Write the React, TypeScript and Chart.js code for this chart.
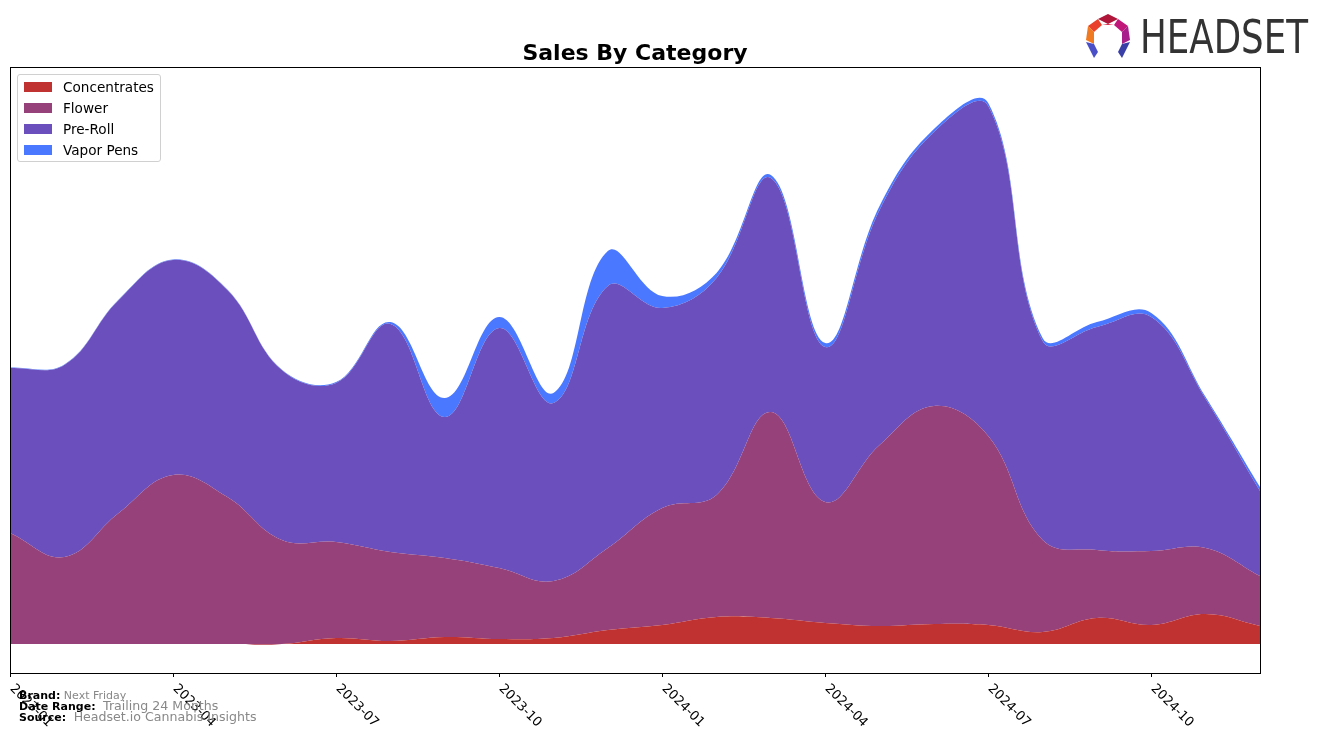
import React, { useEffect, useRef } from "react";
import { Chart, registerables } from "chart.js";

Chart.register(...registerables);

const MONTHS = [
  "2023-01", "2023-02", "2023-03", "2023-04", "2023-05", "2023-06",
  "2023-07", "2023-08", "2023-09", "2023-10", "2023-11", "2023-12",
  "2024-01", "2024-02", "2024-03", "2024-04", "2024-05", "2024-06",
  "2024-07", "2024-08", "2024-09", "2024-10", "2024-11", "2024-12",
];
const TICK_LABELS = ["2023-01", "2023-04", "2023-07", "2023-10", "2024-01", "2024-04", "2024-07", "2024-10"];

const CONCENTRATES = [0, 0, 0, 0, 0, 0, 6, 3, 7, 5, 6, 14, 19, 27, 26, 21, 18, 20, 19, 12, 26, 19, 30, 18];
const FLOWER = [111, 87, 131, 169, 147, 104, 96, 89, 79, 71, 57, 82, 117, 122, 206, 121, 181, 218, 189, 92, 68, 74, 66, 50];
const PREROLL = [165, 192, 213, 215, 207, 170, 159, 228, 141, 240, 178, 262, 200, 217, 234, 155, 235, 274, 330, 199, 223, 234, 149, 85];
const VAPOR_PENS = [0.5, 0.5, 0.5, 0.5, 0.5, 0.5, 1, 2, 19, 11, 10, 35, 12, 5, 3, 4, 4, 3, 3, 3, 5, 4, 2, 4];

const SERIES_NAMES = ["Concentrates", "Flower", "Pre-Roll", "Vapor Pens"];
const COLORS = ["#C03232", "#96417A", "#6A4FBD", "#4A78FF"];

const FONT = "'DejaVu Sans', sans-serif";

const frameAndTicks = {
  id: "frameAndTicks",
  afterDraw(chart: any) {
    const { ctx, chartArea } = chart;
    const xs = chart.scales.x;
    ctx.save();
    ctx.strokeStyle = "#000";
    ctx.lineWidth = 1;
    ctx.strokeRect(chartArea.left + 0.5, chartArea.top + 0.5, chartArea.right - chartArea.left, chartArea.bottom - chartArea.top);
    ctx.font = `13px ${FONT}`;
    ctx.fillStyle = "#000";
    TICK_LABELS.forEach((lab) => {
      const idx = MONTHS.indexOf(lab);
      const x = Math.round(xs.getPixelForValue(idx)) + 0.5;
      ctx.beginPath();
      ctx.moveTo(x, chartArea.bottom);
      ctx.lineTo(x, chartArea.bottom + 4);
      ctx.stroke();
      ctx.save();
      ctx.translate(x + 6, chartArea.bottom + 9);
      ctx.rotate(Math.PI / 4);
      ctx.textAlign = "left";
      ctx.textBaseline = "top";
      ctx.fillText(lab, 0, 0);
      ctx.restore();
    });
    ctx.restore();
  },
};

function Logo() {
  const textRef = useRef<HTMLDivElement | null>(null);
  useEffect(() => {
    const el = textRef.current;
    if (!el) return;
    el.style.transform = "none";
    const w = el.getBoundingClientRect().width;
    if (w > 0) el.style.transform = `scaleX(${168 / w})`;
  }, []);
  return (
    <div style={{ position: "absolute", left: 1084, top: 12, width: 240, height: 50 }}>
      <svg width="48" height="48" viewBox="0 0 48 48" style={{ position: "absolute", left: 0, top: 0 }}>
        <polygon points="24,2 34,7 24,12 14,7" fill="#B0163A" />
        <polygon points="34,7 44,14 38,20 30,13" fill="#C2177A" />
        <polygon points="14,7 18,13 10,20 4,14" fill="#E8402A" />
        <polygon points="4,14 10,20 10,32 2,28" fill="#F07A22" />
        <polygon points="44,14 46,28 38,32 38,20" fill="#A61F8A" />
        <polygon points="2,30 10,32 14,40 10,46" fill="#4A4FC8" />
        <polygon points="46,30 38,32 34,40 38,46" fill="#3A3FA8" />
        <polygon points="24,12 30,13 18,13" fill="#D81B3C" />
      </svg>
      <div
        ref={textRef}
        style={{
          position: "absolute",
          left: 56,
          top: -2,
          transformOrigin: "0 0",
          display: "inline-block",
          fontFamily: "'Liberation Sans Narrow', 'DejaVu Sans Condensed', 'Roboto', sans-serif",
          fontSize: 47,
          color: "#333",
          lineHeight: "54px",
          whiteSpace: "nowrap",
        }}
      >
        HEADSET
      </div>
    </div>
  );
}

export default function App() {
  const canvasRef = useRef<HTMLCanvasElement | null>(null);

  useEffect(() => {
    if (!canvasRef.current) return;
    const values = [CONCENTRATES, FLOWER, PREROLL, VAPOR_PENS];
    const chart = new Chart(canvasRef.current, {
      type: "line",
      data: {
        labels: MONTHS,
        datasets: values.map((arr, i) => ({
          label: SERIES_NAMES[i],
          data: arr,
          backgroundColor: COLORS[i],
          borderColor: COLORS[i],
          borderWidth: 0,
          pointRadius: 0,
          tension: 0.4,
          fill: i === 0 ? "origin" : "-1",
        })),
      },
      options: {
        animation: false,
        responsive: false,
        devicePixelRatio: 1,
        layout: { padding: { left: 10, right: 64, top: 67, bottom: 70 } },
        plugins: {
          legend: { display: false },
          title: { display: false },
          tooltip: { enabled: false },
        },
        scales: {
          x: { type: "category", display: false, offset: false },
          y: { display: false, stacked: true, min: -29, max: 577 },
        },
      },
      plugins: [frameAndTicks],
    });
    return () => chart.destroy();
  }, []);

  const legendRow = (name: string, color: string, i: number) => (
    <div key={name} style={{ position: "absolute", left: 6, top: 5 + i * 21, height: 14, display: "flex", alignItems: "center" }}>
      <div style={{ width: 28, height: 10, background: color }} />
      <div style={{ marginLeft: 11, fontSize: 13.6, fontFamily: FONT, color: "#000", whiteSpace: "nowrap" }}>{name}</div>
    </div>
  );

  return (
    <div style={{ position: "absolute", left: 0, top: 0, width: 1324, height: 743, background: "#fff", overflow: "hidden" }}>
      <canvas ref={canvasRef} width={1324} height={743} style={{ position: "absolute", left: 0, top: 0, width: 1324, height: 743 }} />
      <div
        style={{
          position: "absolute",
          left: 10,
          width: 1250,
          top: 40,
          textAlign: "center",
          fontFamily: FONT,
          fontWeight: "bold",
          fontSize: 22,
          lineHeight: "26px",
          color: "#000",
        }}
      >
        Sales By Category
      </div>
      <div
        style={{
          position: "absolute",
          left: 17,
          top: 74,
          width: 142,
          height: 86,
          border: "1px solid #d0d0d0",
          borderRadius: 3,
          background: "rgba(255,255,255,0.8)",
        }}
      >
        {SERIES_NAMES.map((n, i) => legendRow(n, COLORS[i], i))}
      </div>
      <Logo />
      <div style={{ position: "absolute", left: 19, top: 691, fontFamily: FONT, fontSize: 11, lineHeight: "10px", whiteSpace: "nowrap" }}>
        <div>
          <b>Brand:</b> <span style={{ color: "#888" }}>Next Friday</span>
        </div>
        <div>
          <b>Date Range:</b> <span style={{ color: "#888", fontSize: 12.6 }}>&nbsp;Trailing 24 Months</span>
        </div>
        <div>
          <b>Source:</b> <span style={{ color: "#888", fontSize: 12.6 }}>&nbsp;Headset.io Cannabis Insights</span>
        </div>
      </div>
    </div>
  );
}
